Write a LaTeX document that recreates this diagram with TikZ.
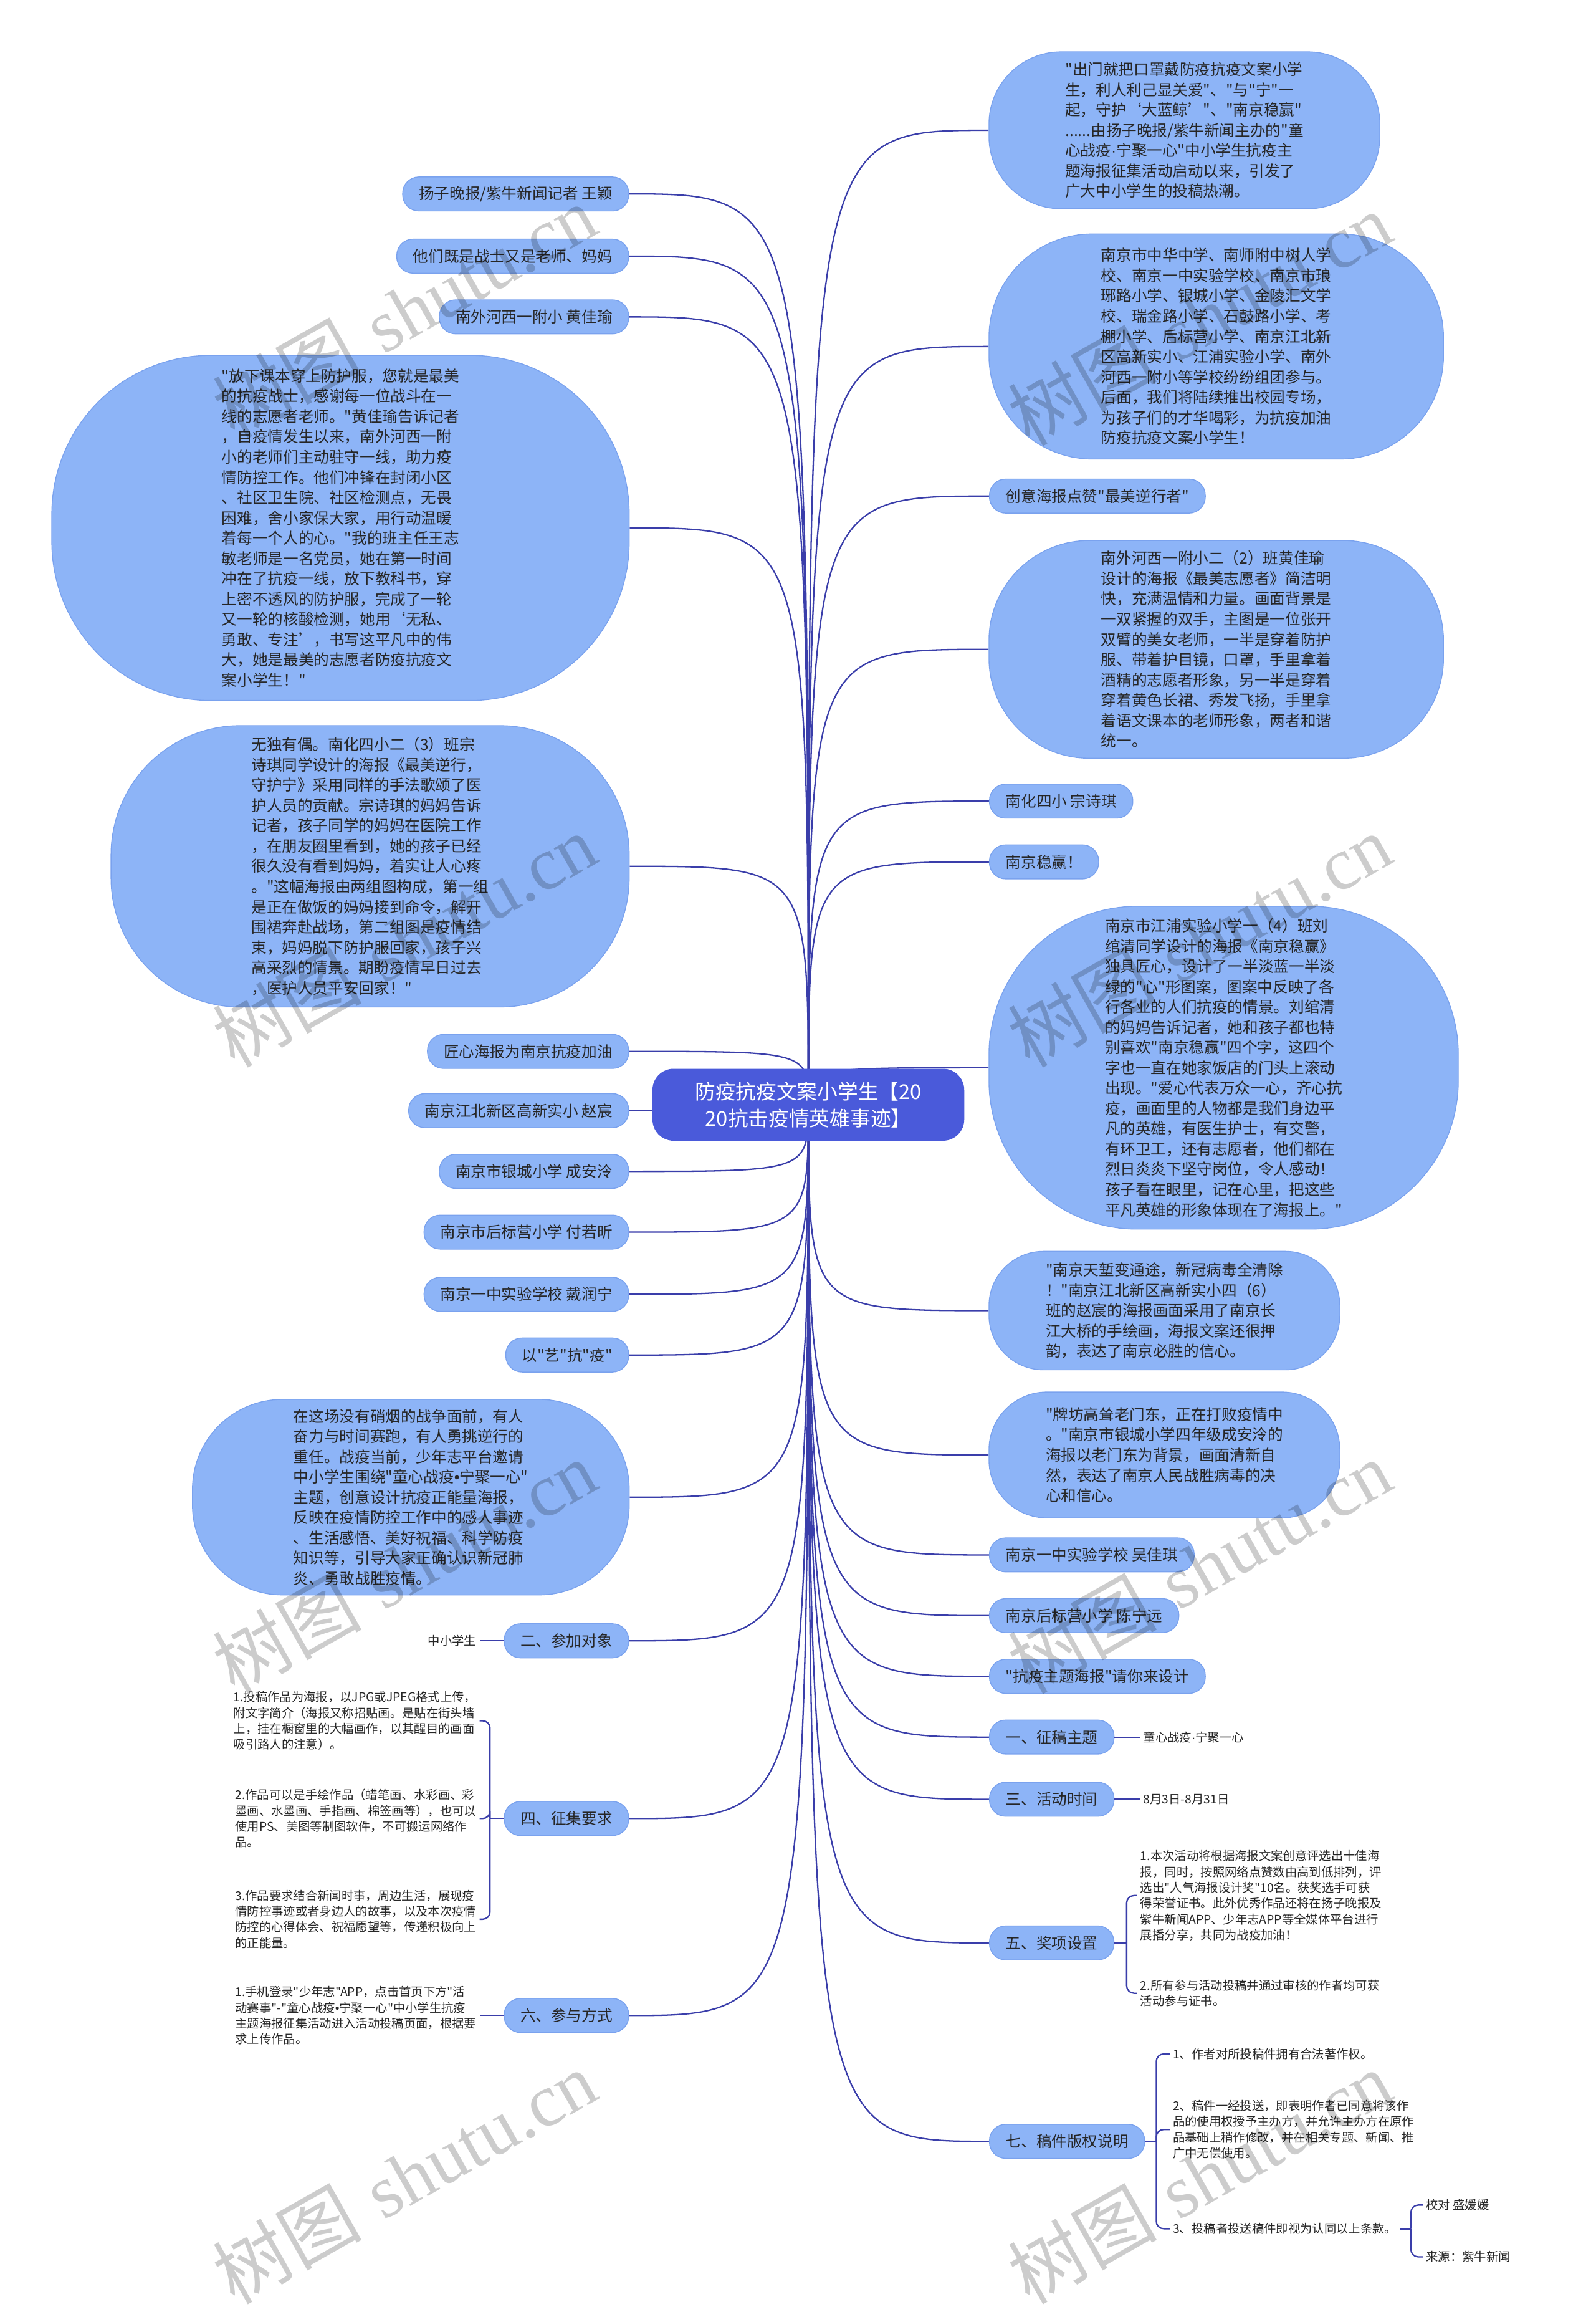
\documentclass[tikz,border=0pt]{standalone}
\usepackage{fontspec}
\newfontfamily\cjk{Noto Sans CJK SC}
\newfontfamily\latin{Liberation Sans}
\newfontfamily\wmserif{Liberation Serif}
\usepackage{tikz}
\usetikzlibrary{backgrounds}
\usepackage{xcolor}
\definecolor{bubblefill}{RGB}{141,180,247}
\definecolor{bubbleline}{RGB}{122,162,238}
\definecolor{linkblue}{RGB}{58,62,170}
\definecolor{hubblue}{RGB}{74,90,218}
\definecolor{inkgray}{RGB}{38,38,38}
\newcommand{\dpx}{0.02375cm}
\newcommand{\mdot}{{\latin ·}}
\newcommand{\bdot}{{\latin •}}

\begin{document}
\begin{tikzpicture}[
    x=0.02375cm, y=-0.02375cm,
    hubbox/.style={draw=hubblue, fill=hubblue, text=white, align=center, rounded corners=14*\dpx, minimum width=210*\dpx, minimum height=48*\dpx, font=\cjk\fontsize{9.3pt}{12.2pt}\selectfont},
    bubble/.style={draw=bubbleline, fill=bubblefill, text=inkgray, align=left, inner sep=0pt, font=\cjk\fontsize{7pt}{9.25pt}\selectfont},
    bsize/.style 2 args={minimum width=#1*\dpx, minimum height=#2*\dpx, rounded corners=0.46*#2*\dpx},
    tag/.style={draw=bubbleline, fill=bubblefill, text=inkgray, rounded corners=11*\dpx, minimum height=23*\dpx, inner xsep=11*\dpx, inner ysep=0pt, font=\cjk\fontsize{7pt}{9pt}\selectfont},
    leaf/.style={text=inkgray, align=left, inner xsep=2*\dpx, inner ysep=0pt, font=\cjk\fontsize{5.5pt}{7.2pt}\selectfont},
    link/.style={draw=linkblue, line width=0.65pt},
    wmark/.style={rotate=29.5, text=black, opacity=0.2, inner sep=0pt, font=\fontsize{34pt}{34pt}\selectfont}
]
  \useasboundingbox (0,0) rectangle (1078,1568);

  % Centre
  \node (hub) [hubbox] at (546,746) {防疫抗疫文案小学生【20\\20抗击疫情英雄事迹】};

  % Right branch
  \node (opening) [bubble, bsize={264}{106}] at (800,88) {"出门就把口罩戴防疫抗疫文案小学\\生，利人利己显关爱"、"与"宁"一\\起，守护‘大蓝鲸’"、"南京稳赢"\\......由扬子晚报/紫牛新闻主办的"童\\心战疫\mdot 宁聚一心"中小学生抗疫主\\题海报征集活动启动以来，引发了\\广大中小学生的投稿热潮。};
  \node (schools) [bubble, bsize={307}{152}] at (821.5,234) {南京市中华中学、南师附中树人学\\校、南京一中实验学校、南京市琅\\琊路小学、银城小学、金陵汇文学\\校、瑞金路小学、石鼓路小学、考\\棚小学、后标营小学、南京江北新\\区高新实小、江浦实验小学、南外\\河西一附小等学校纷纷组团参与。\\后面，我们将陆续推出校园专场，\\为孩子们的才华喝彩，为抗疫加油\\防疫抗疫文案小学生！};
  \node (praise) [tag, anchor=west] at (668,335) {创意海报点赞"最美逆行者"};
  \node (poster1) [bubble, bsize={307}{147}] at (821.5,438.5) {南外河西一附小二（2）班黄佳瑜\\设计的海报《最美志愿者》简洁明\\快，充满温情和力量。画面背景是\\一双紧握的双手，主图是一位张开\\双臂的美女老师，一半是穿着防护\\服、带着护目镜，口罩，手里拿着\\酒精的志愿者形象，另一半是穿着\\穿着黄色长裙、秀发飞扬，手里拿\\着语文课本的老师形象，两者和谐\\统一。};
  \node (zongsq) [tag, anchor=west] at (668,541) {南化四小 宗诗琪};
  \node (steadywin) [tag, anchor=west] at (668,582) {南京稳赢！};
  \node (poster3) [bubble, bsize={317}{218}] at (826.5,721) {南京市江浦实验小学一（4）班刘\\绾清同学设计的海报《南京稳赢》\\独具匠心，设计了一半淡蓝一半淡\\绿的"心"形图案，图案中反映了各\\行各业的人们抗疫的情景。刘绾清\\的妈妈告诉记者，她和孩子都也特\\别喜欢"南京稳赢"四个字，这四个\\字也一直在她家饭店的门头上滚动\\出现。"爱心代表万众一心，齐心抗\\疫，画面里的人物都是我们身边平\\凡的英雄，有医生护士，有交警，\\有环卫工，还有志愿者，他们都在\\烈日炎炎下坚守岗位，令人感动！\\孩子看在眼里，记在心里，把这些\\平凡英雄的形象体现在了海报上。"};
  \node (poster4) [bubble, bsize={237}{80}] at (786.5,885) {"南京天堑变通途，新冠病毒全清除\\！"南京江北新区高新实小四（6）\\班的赵宸的海报画面采用了南京长\\江大桥的手绘画，海报文案还很押\\韵，表达了南京必胜的信心。};
  \node (poster5) [bubble, bsize={237}{85}] at (786.5,982.5) {"牌坊高耸老门东，正在打败疫情中\\。"南京市银城小学四年级成安泠的\\海报以老门东为背景，画面清新自\\然，表达了南京人民战胜病毒的决\\心和信心。};
  \node (wujq) [tag, anchor=west] at (668,1050) {南京一中实验学校 吴佳琪};
  \node (chenny) [tag, anchor=west] at (668,1091) {南京后标营小学 陈宁远};
  \node (design) [tag, anchor=west] at (668,1132) {"抗疫主题海报"请你来设计};
  \node (theme) [tag, anchor=west] at (668,1173) {一、征稿主题};
  \node (period) [tag, anchor=west] at (668,1215) {三、活动时间};
  \node (awards) [tag, anchor=west] at (668,1312) {五、奖项设置};
  \node (rights) [tag, anchor=west] at (668,1446) {七、稿件版权说明};

  % Left branch
  \node (reporter) [tag, anchor=east] at (425,131) {扬子晚报/紫牛新闻记者 王颖};
  \node (teachers) [tag, anchor=east] at (425,173) {他们既是战士又是老师、妈妈};
  \node (huangjy) [tag, anchor=east] at (425,214) {南外河西一附小 黄佳瑜};
  \node (volunteer) [bubble, bsize={390}{233}] at (230,356.5) {"放下课本穿上防护服，您就是最美\\的抗疫战士，感谢每一位战斗在一\\线的志愿者老师。"黄佳瑜告诉记者\\，自疫情发生以来，南外河西一附\\小的老师们主动驻守一线，助力疫\\情防控工作。他们冲锋在封闭小区\\、社区卫生院、社区检测点，无畏\\困难，舍小家保大家，用行动温暖\\着每一个人的心。"我的班主任王志\\敏老师是一名党员，她在第一时间\\冲在了抗疫一线，放下教科书，穿\\上密不透风的防护服，完成了一轮\\又一轮的核酸检测，她用‘无私、\\勇敢、专注’，书写这平凡中的伟\\大，她是最美的志愿者防疫抗疫文\\案小学生！"};
  \node (poster2) [bubble, bsize={350}{190}] at (250,585) {无独有偶。南化四小二（3）班宗\\诗琪同学设计的海报《最美逆行，\\守护宁》采用同样的手法歌颂了医\\护人员的贡献。宗诗琪的妈妈告诉\\记者，孩子同学的妈妈在医院工作\\，在朋友圈里看到，她的孩子已经\\很久没有看到妈妈，着实让人心疼\\。"这幅海报由两组图构成，第一组\\是正在做饭的妈妈接到命令，解开\\围裙奔赴战场，第二组图是疫情结\\束，妈妈脱下防护服回家，孩子兴\\高采烈的情景。期盼疫情早日过去\\，医护人员平安回家！"};
  \node (craft) [tag, anchor=east] at (425,710) {匠心海报为南京抗疫加油};
  \node (zhaochen) [tag, anchor=east] at (425,750) {南京江北新区高新实小 赵宸};
  \node (chengal) [tag, anchor=east] at (425,791) {南京市银城小学 成安泠};
  \node (furx) [tag, anchor=east] at (425,832) {南京市后标营小学 付若昕};
  \node (dairn) [tag, anchor=east] at (425,874) {南京一中实验学校 戴润宁};
  \node (artfight) [tag, anchor=east] at (425,915) {以"艺"抗"疫"};
  \node (intro) [bubble, bsize={295}{132}] at (277.5,1011) {在这场没有硝烟的战争面前，有人\\奋力与时间赛跑，有人勇挑逆行的\\重任。战疫当前，少年志平台邀请\\中小学生围绕"童心战疫\bdot 宁聚一心"\\主题，创意设计抗疫正能量海报，\\反映在疫情防控工作中的感人事迹\\、生活感悟、美好祝福、科学防疫\\知识等，引导大家正确认识新冠肺\\炎、勇敢战胜疫情。};
  \node (target) [tag, anchor=east] at (425,1108) {二、参加对象};
  \node (demands) [tag, anchor=east] at (425,1228) {四、征集要求};
  \node (howto) [tag, anchor=east] at (425,1361) {六、参与方式};

  % Leaves
  \node (pupils) [leaf, anchor=east] at (324,1108) {中小学生};
  \node (dem1) [leaf, anchor=east] at (324,1162) {1.投稿作品为海报，以JPG或JPEG格式上传，\\附文字简介（海报又称招贴画。是贴在街头墙\\上，挂在橱窗里的大幅画作，以其醒目的画面\\吸引路人的注意）。};
  \node (dem2) [leaf, anchor=east] at (324,1228) {2.作品可以是手绘作品（蜡笔画、水彩画、彩\\墨画、水墨画、手指画、棉签画等），也可以\\使用PS、美图等制图软件，不可搬运网络作\\品。};
  \node (dem3) [leaf, anchor=east] at (324,1296) {3.作品要求结合新闻时事，周边生活，展现疫\\情防控事迹或者身边人的故事，以及本次疫情\\防控的心得体会、祝福愿望等，传递积极向上\\的正能量。};
  \node (how1) [leaf, anchor=east] at (324,1361) {1.手机登录"少年志"APP，点击首页下方"活\\动赛事"-"童心战疫\bdot 宁聚一心"中小学生抗疫\\主题海报征集活动进入活动投稿页面，根据要\\求上传作品。};
  \node (themeleaf) [leaf, anchor=west] at (770,1173) {童心战疫\mdot 宁聚一心};
  \node (periodleaf) [leaf, anchor=west] at (770,1215) {8月3日-8月31日};
  \node (award1) [leaf, anchor=west] at (768,1280) {1.本次活动将根据海报文案创意评选出十佳海\\报，同时，按照网络点赞数由高到低排列，评\\选出"人气海报设计奖"10名。获奖选手可获\\得荣誉证书。此外优秀作品还将在扬子晚报及\\紫牛新闻APP、少年志APP等全媒体平台进行\\展播分享，共同为战疫加油！};
  \node (award2) [leaf, anchor=west] at (768,1346) {2.所有参与活动投稿并通过审核的作者均可获\\活动参与证书。};
  \node (right1) [leaf, anchor=west] at (790,1387) {1、作者对所投稿件拥有合法著作权。};
  \node (right2) [leaf, anchor=west] at (790,1438) {2、稿件一经投送，即表明作者已同意将该作\\品的使用权授予主办方，并允许主办方在原作\\品基础上稍作修改，并在相关专题、新闻、推\\广中无偿使用。};
  \node (right3) [leaf, anchor=west] at (790,1505) {3、投稿者投送稿件即视为认同以上条款。};
  \node (proof) [leaf, anchor=west] at (961,1489) {校对 盛媛媛};
  \node (source) [leaf, anchor=west] at (961,1524) {来源：紫牛新闻};

  \coordinate (jdem) at (331,1228);
  \coordinate (jaw) at (761,1312);
  \coordinate (jrt) at (781,1446);
  \coordinate (jsrc) at (953,1505);

  % Connectors
  \begin{scope}[on background layer]
    \foreach \n in {opening,schools,praise,poster1,zongsq,steadywin,poster3,poster4,poster5,wujq,chenny,design,theme,period,awards,rights}
      \draw[link] (hub.center) .. controls (hub.center |- \n.west) .. (\n.west);
    \foreach \n in {reporter,teachers,huangjy,volunteer,poster2,craft,zhaochen,chengal,furx,dairn,artfight,intro,target,demands,howto}
      \draw[link] (hub.center) .. controls (hub.center |- \n.east) .. (\n.east);
  \end{scope}

  \draw[link] (target.west) -- (pupils.east);
  \draw[link] (howto.west) -- (how1.east);
  \draw[link] (theme.east) -- (themeleaf.west);
  \draw[link] (period.east) -- (periodleaf.west);

  \draw[link] (demands.west) -- (jdem);
  \foreach \q in {dem1,dem2,dem3}
    \draw[link, rounded corners=5*\dpx] (jdem) |- (\q.east);
  \draw[link] (awards.east) -- (jaw);
  \foreach \q in {award1,award2}
    \draw[link, rounded corners=5*\dpx] (jaw) |- (\q.west);
  \draw[link] (rights.east) -- (jrt);
  \foreach \q in {right1,right2,right3}
    \draw[link, rounded corners=5*\dpx] (jrt) |- (\q.west);
  \draw[link] (right3.east) -- (jsrc);
  \foreach \q in {proof,source}
    \draw[link, rounded corners=5*\dpx] (jsrc) |- (\q.west);

  % Watermarks
  \foreach \wx/\wy [count=\k] in {273/210,810/215,273/635,810/635,273/1058,810/1058,273/1470,810/1470}
    \node (wm\k) [wmark] at (\wx,\wy) {{\cjk 树图} {\wmserif shutu.cn}};
\end{tikzpicture}
\end{document}
